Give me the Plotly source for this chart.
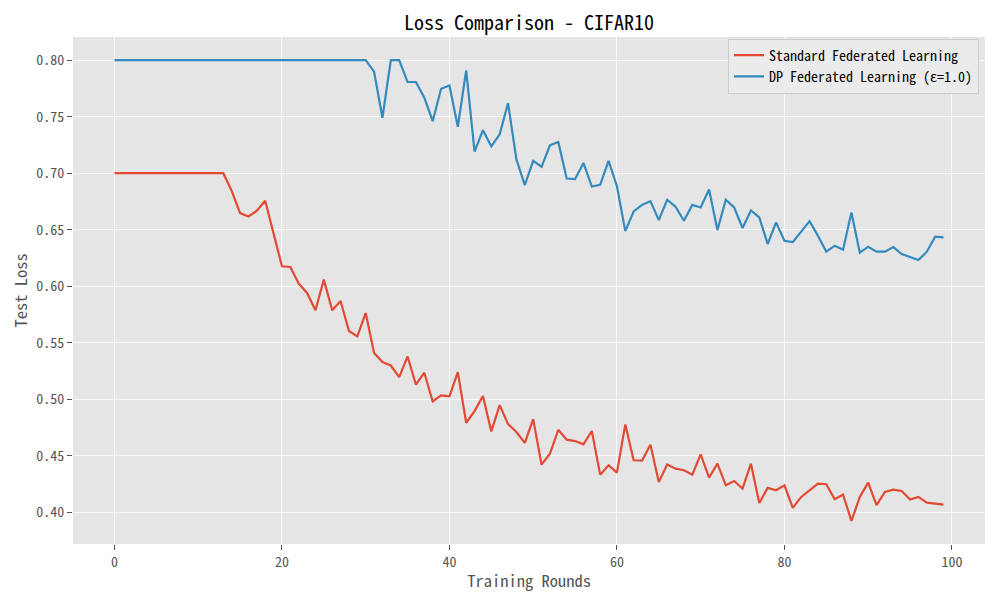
import plotly.graph_objects as go

# training rounds 0..99
rounds = list(range(100))

# standard federated learning test loss
standard_loss = [0.70] * 14 + [
    0.6844, 0.6647, 0.6618, 0.6668, 0.6756, 0.6462,
    0.6177, 0.6171, 0.6024, 0.5941, 0.5788, 0.6059, 0.5788, 0.5870, 0.5605, 0.5558,
    0.5764, 0.5410, 0.5330, 0.5300, 0.5198, 0.5380, 0.5130, 0.5236, 0.4982, 0.5035,
    0.5027, 0.5242, 0.4794, 0.4897, 0.5030, 0.4717, 0.4950, 0.4782, 0.4712, 0.4616,
    0.4826, 0.4423, 0.4520, 0.4732, 0.4644, 0.4632, 0.4603, 0.4721, 0.4335, 0.4418,
    0.4353, 0.4779, 0.4462, 0.4459, 0.4600, 0.4271, 0.4424, 0.4388, 0.4374, 0.4335,
    0.4515, 0.4309, 0.4432, 0.4241, 0.4279, 0.4212, 0.4432, 0.4085, 0.4218, 0.4197,
    0.4241, 0.4041, 0.4138, 0.4197, 0.4256, 0.4250, 0.4118, 0.4159, 0.3926, 0.4138,
    0.4265, 0.4065, 0.4182, 0.4203, 0.4191, 0.4115, 0.4138, 0.4088, 0.4079, 0.4070,
]

# DP federated learning test loss (eps = 1.0)
dp_loss = [0.80] * 31 + [
    0.7897, 0.7490, 0.8000, 0.8000, 0.7806, 0.7806, 0.7668, 0.7460, 0.7747,
    0.7776, 0.7410, 0.7909, 0.7190, 0.7380, 0.7238, 0.7344, 0.7620, 0.7120, 0.6894,
    0.7109, 0.7056, 0.7247, 0.7276, 0.6953, 0.6947, 0.7091, 0.6882, 0.6897, 0.7109,
    0.6885, 0.6488, 0.6662, 0.6720, 0.6753, 0.6585, 0.6765, 0.6703, 0.6580, 0.6720,
    0.6697, 0.6856, 0.6497, 0.6765, 0.6697, 0.6515, 0.6670, 0.6609, 0.6374, 0.6565,
    0.6403, 0.6391, 0.6485, 0.6576, 0.6447, 0.6306, 0.6359, 0.6324, 0.6653, 0.6297,
    0.6350, 0.6306, 0.6306, 0.6347, 0.6285, 0.6256, 0.6232, 0.6306, 0.6438, 0.6432,
]

FONT = "Noto Sans Mono CJK SC, DejaVu Sans Mono, monospace"

fig = go.Figure()
fig.add_trace(go.Scatter(x=rounds, y=standard_loss, mode="lines",
                         name="Standard Federated Learning",
                         line=dict(color="#E24A33", width=2.2)))
fig.add_trace(go.Scatter(x=rounds, y=dp_loss, mode="lines",
                         name="DP Federated Learning (ε=1.0)",
                         line=dict(color="#348ABD", width=2.2)))

axis_common = dict(
    showgrid=True, gridcolor="rgba(255,255,255,0.75)", gridwidth=1,
    zeroline=False, showline=False, automargin=False,
    ticks="outside", ticklen=5, tickcolor="#555555", tickwidth=1,
    tickfont=dict(size=14, color="#555555", family=FONT),
)

# page body has an 8px margin, so the figure is 8px smaller and margins shifted
fig.update_layout(
    width=992, height=592,
    paper_bgcolor="white", plot_bgcolor="#E5E5E5",
    margin=dict(l=65, r=15, t=29, b=56, autoexpand=False),
    font=dict(family=FONT, color="#555555"),
    title=dict(text="Loss Comparison - CIFAR10", x=(529 - 8) / 992, xanchor="center",
               xref="container", y=1 - (23 - 8) / 592, yanchor="middle",
               font=dict(size=20, color="black", family=FONT)),
    showlegend=True,
    legend=dict(x=0.9934, y=0.997, xanchor="right", yanchor="top",
                bgcolor="rgba(235,235,235,0.9)", bordercolor="#CCCCCC", borderwidth=1,
                font=dict(size=14, color="black", family=FONT)),
    xaxis=dict(range=[-4.95, 103.95], tickvals=[0, 20, 40, 60, 80, 100],
               title=dict(text="Training Rounds", standoff=5,
                          font=dict(size=16.5, color="#555555", family=FONT)),
               **axis_common),
    yaxis=dict(range=[0.3722, 0.8204],
               tickvals=[0.40, 0.45, 0.50, 0.55, 0.60, 0.65, 0.70, 0.75, 0.80],
               tickformat=".2f",
               title=dict(text="Test Loss", standoff=7,
                          font=dict(size=16.5, color="#555555", family=FONT)),
               **axis_common),
)

fig.write_html("out.html")
